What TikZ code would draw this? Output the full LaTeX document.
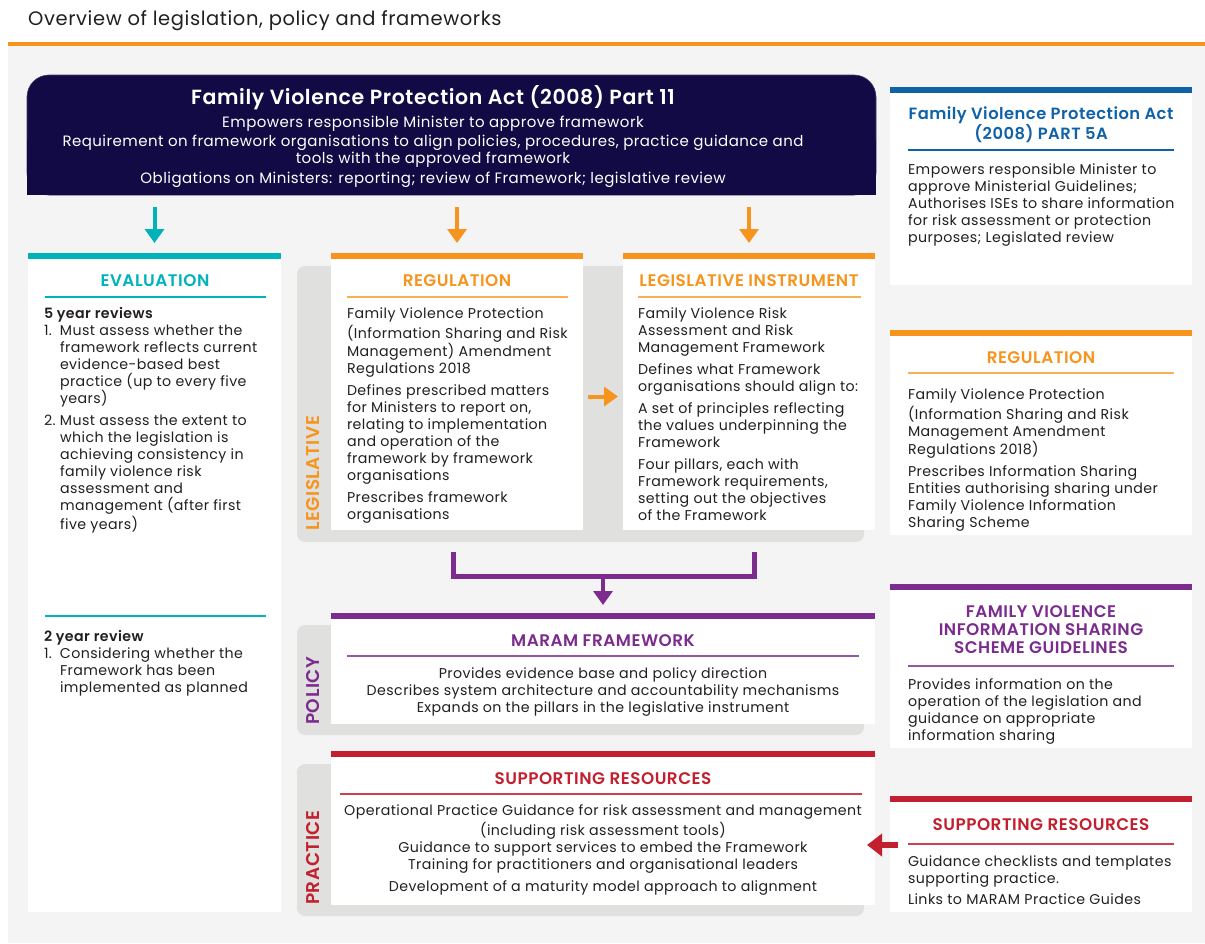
\documentclass[tikz,border=0pt]{standalone}
\usepackage{fontspec}
\setmainfont{Poppins}[BoldFont={Poppins SemiBold}, LetterSpace=3]
\usetikzlibrary{arrows.meta}
\definecolor{navy}{HTML}{120A44}
\definecolor{vorange}{HTML}{F7941D}
\definecolor{vteal}{HTML}{00B3BB}
\definecolor{vpurple}{HTML}{7B2C8E}
\definecolor{vred}{HTML}{C2202F}
\definecolor{vblue}{HTML}{1062A8}
\definecolor{txt}{HTML}{231F20}
\definecolor{panel}{HTML}{E0E1DF}
\definecolor{bg}{HTML}{F4F4F4}
\newcommand{\itemno}[1]{\makebox[16pt][l]{#1}}
\newcommand{\hind}{\hspace*{16pt}}
\tikzset{
  box/.style={fill=white, inner sep=0pt, outer sep=0pt, anchor=north west},
  panelbox/.style={fill=panel, rounded corners=8pt},
  body/.style={font=\fontsize{14.2}{17}\selectfont, text=txt, inner sep=0pt, outer sep=0pt, align=left, anchor=north west},
  bodyc/.style={body, align=center, anchor=north},
  head/.style={font=\fontsize{16.8}{18}\bfseries\selectfont, inner sep=0pt, align=center},
  sidelab/.style={font=\fontsize{18.5}{20}\bfseries\selectfont, inner sep=0pt, rotate=90, anchor=west},
  bigarrow/.style={line width=4pt, -{Triangle[width=19pt,length=14pt]}},
  redarrow/.style={line width=6pt, -{Triangle[width=22pt,length=15pt]}},
  rule/.style={line width=1.2pt}
}
\begin{document}
\begin{tikzpicture}[x=1pt,y=-1pt]
\useasboundingbox (0,0) rectangle (1205,943);
\fill[white] (0,0) rectangle (1205,943);
\fill[bg] (8,46) rectangle (1205,943);
\draw[vorange, line width=4pt] (8,44) -- (1205,44);
\node[font=\fontsize{19.5}{22}\selectfont, text=txt, anchor=west, inner sep=0pt] (title) at (28,21) {Overview of legislation, policy and frameworks};

% top act box
\node[fill=navy, draw=navy!80!white, line width=0.6pt, rounded corners=22pt, minimum width=849pt, minimum height=120pt, inner sep=0pt, outer sep=0pt, anchor=north west] (act) at (27,75) {};
\fill[navy] (27,140) rectangle (876,195);
\node[font=\fontsize{20.5}{24}\bfseries\selectfont, text=white, inner sep=0pt] (acttitle) at (433,98) {Family Violence Protection Act (2008) Part 11};
\node[font=\fontsize{15}{17}\selectfont, text=white, align=center, anchor=north, inner sep=0pt] (acttext) at (433,115) {\strut Empowers responsible Minister to approve framework\\[2pt]
Requirement on framework organisations to align policies, procedures, practice guidance and\\
tools with the approved framework\\[3pt]
Obligations on Ministers: reporting; review of Framework; legislative review};

% grey panels
\fill[panelbox] (297,266) rectangle (864,542);
\fill[panelbox] (297,625) rectangle (864,735);
\fill[panelbox] (297,764) rectangle (864,916);
\node[sidelab, text=vorange] (leglab) at (313,531) {LEGISLATIVE};
\node[sidelab, text=vpurple] (pollab) at (313,725) {POLICY};
\node[sidelab, text=vred] (praclab) at (313,905) {PRACTICE};

% evaluation box
\node[box, minimum width=253pt, minimum height=659pt] (eval) at (28,253) {};
\fill[vteal] (eval.north west) rectangle ([yshift=-6pt]eval.north east);
\node[head, text=vteal] (evalhead) at (155,281) {EVALUATION};
\draw[vteal, rule] (45,297) -- (266,297);
\node[body] (evaltext) at (44,307) {\strut\textbf{5 year reviews}\\
\itemno{1.}Must assess whether the\\
\hind framework reflects current\\
\hind evidence-based best\\
\hind practice (up to every five\\
\hind years)\\[5pt]
\itemno{2.}Must assess the extent to\\
\hind which the legislation is\\
\hind achieving consistency in\\
\hind family violence risk\\
\hind assessment and\\
\hind management (after first\\
\hind five years)};
\draw[vteal, rule] (45,616) -- (266,616);
\node[body] (evaltext2) at (44,630) {\strut\textbf{2 year review}\\
\itemno{1.}Considering whether the\\
\hind Framework has been\\
\hind implemented as planned};

% regulation box
\node[box, minimum width=252pt, minimum height=277pt] (reg) at (331,253) {};
\fill[vorange] (reg.north west) rectangle ([yshift=-6pt]reg.north east);
\node[head, text=vorange] (reghead) at (457,281) {REGULATION};
\draw[vorange!75, rule] (347,297) -- (568,297);
\node[body] (regtext) at (347,307) {\strut Family Violence Protection\\
(Information Sharing and Risk\\
Management) Amendment\\
Regulations 2018\\[5pt]
Defines prescribed matters\\
for Ministers to report on,\\
relating to implementation\\
and operation of the\\
framework by framework\\
organisations\\[5pt]
Prescribes framework\\
organisations};

% legislative instrument box
\node[box, minimum width=252pt, minimum height=277pt] (inst) at (623,253) {};
\fill[vorange] (inst.north west) rectangle ([yshift=-6pt]inst.north east);
\node[head, text=vorange] (insthead) at (749,281) {LEGISLATIVE INSTRUMENT};
\draw[vorange!75, rule] (638,297) -- (861,297);
\node[body] (insttext) at (638,307) {\strut Family Violence Risk\\
Assessment and Risk\\
Management Framework\\[5pt]
Defines what Framework\\
organisations should align to:\\[5pt]
A set of principles reflecting\\
the values underpinning the\\
Framework\\[5pt]
Four pillars, each with\\
Framework requirements,\\
setting out the objectives\\
of the Framework};

% MARAM box
\node[box, minimum width=544pt, minimum height=111pt] (maram) at (331,613) {};
\fill[vpurple] (maram.north west) rectangle ([yshift=-6pt]maram.north east);
\node[head, text=vpurple] (maramhead) at (603,641) {MARAM FRAMEWORK};
\draw[vpurple!80, rule] (347,656) -- (859,656);
\node[bodyc] (maramtext) at (603,667) {\strut Provides evidence base and policy direction\\
Describes system architecture and accountability mechanisms\\
Expands on the pillars in the legislative instrument};

% practice box
\node[box, minimum width=544pt, minimum height=154pt] (prac) at (331,751) {};
\fill[vred] (prac.north west) rectangle ([yshift=-6pt]prac.north east);
\node[head, text=vred] (prachead) at (603,779) {SUPPORTING RESOURCES};
\draw[vred!85, rule] (340,794) -- (862,794);
\node[bodyc] (practext) at (603,804) {\strut Operational Practice Guidance for risk assessment and management\\
(including risk assessment tools)\\
Guidance to support services to embed the Framework\\
Training for practitioners and organisational leaders\\[5pt]
Development of a maturity model approach to alignment};

% right column
\node[box, minimum width=302pt, minimum height=198pt] (rpart) at (890,87) {};
\fill[vblue] (rpart.north west) rectangle ([yshift=-6pt]rpart.north east);
\node[head, text=vblue, font=\fontsize{16.3}{17}\bfseries\selectfont] (rparthead) at (1041,125) {Family Violence Protection Act\\(2008) PART 5A};
\draw[vblue, rule] (908,150) -- (1174,150);
\node[body] (rparttext) at (908,163) {\strut Empowers responsible Minister to\\
approve Ministerial Guidelines;\\
Authorises ISEs to share information\\
for risk assessment or protection\\
purposes; Legislated review};

\node[box, minimum width=302pt, minimum height=205pt] (rreg) at (890,330) {};
\fill[vorange] (rreg.north west) rectangle ([yshift=-6pt]rreg.north east);
\node[head, text=vorange] (rreghead) at (1041,358) {REGULATION};
\draw[vorange!75, rule] (908,373) -- (1174,373);
\node[body] (rregtext) at (908,388) {\strut Family Violence Protection\\
(Information Sharing and Risk\\
Management Amendment\\
Regulations 2018)\\[5pt]
Prescribes Information Sharing\\
Entities authorising sharing under\\
Family Violence Information\\
Sharing Scheme};

\node[box, minimum width=302pt, minimum height=164pt] (rguide) at (890,584) {};
\fill[vpurple] (rguide.north west) rectangle ([yshift=-6pt]rguide.north east);
\node[head, text=vpurple] (rguidehead) at (1041,630) {FAMILY VIOLENCE\\INFORMATION SHARING\\SCHEME GUIDELINES};
\draw[vpurple!80, rule] (908,666) -- (1174,666);
\node[body] (rguidetext) at (908,678) {\strut Provides information on the\\
operation of the legislation and\\
guidance on appropriate\\
information sharing};

\node[box, minimum width=302pt, minimum height=116pt] (rsup) at (890,796) {};
\fill[vred] (rsup.north west) rectangle ([yshift=-6pt]rsup.north east);
\node[head, text=vred] (rsuphead) at (1041,825) {SUPPORTING RESOURCES};
\draw[vred!85, rule] (908,844) -- (1174,844);
\node[body] (rsuptext) at (908,855) {\strut Guidance checklists and templates\\
supporting practice.\\[4pt]
Links to MARAM Practice Guides};

% connectors
\draw[bigarrow, vteal, shorten <=12pt, shorten >=10pt] (act.south -| eval.north) -- (eval.north);
\draw[bigarrow, vorange, shorten <=12pt, shorten >=10pt] (act.south -| reg.north) -- (reg.north);
\draw[bigarrow, vorange, shorten <=12pt, shorten >=10pt] (act.south -| inst.north) -- (inst.north);
\draw[bigarrow, vorange, shorten <=5pt, shorten >=5pt] ([yshift=-5pt]reg.east) -- ([yshift=-5pt]inst.west);
\coordinate (bl) at ([xshift=-4pt,yshift=-22pt]reg.south);
\coordinate (br) at ([xshift=5pt,yshift=-22pt]inst.south);
\coordinate (bj) at (603,576);
\draw[vpurple, line width=5pt] (bl) -- ++(0,24) -| (br);
\draw[bigarrow, vpurple, shorten >=8pt] (bj) -- (maram.north);
\coordinate (ra) at ([yshift=9pt]rsup.west);
\draw[redarrow, vred, shorten <=-8pt, shorten >=-8pt] (ra) -- (ra -| prac.east);
\end{tikzpicture}
\end{document}
